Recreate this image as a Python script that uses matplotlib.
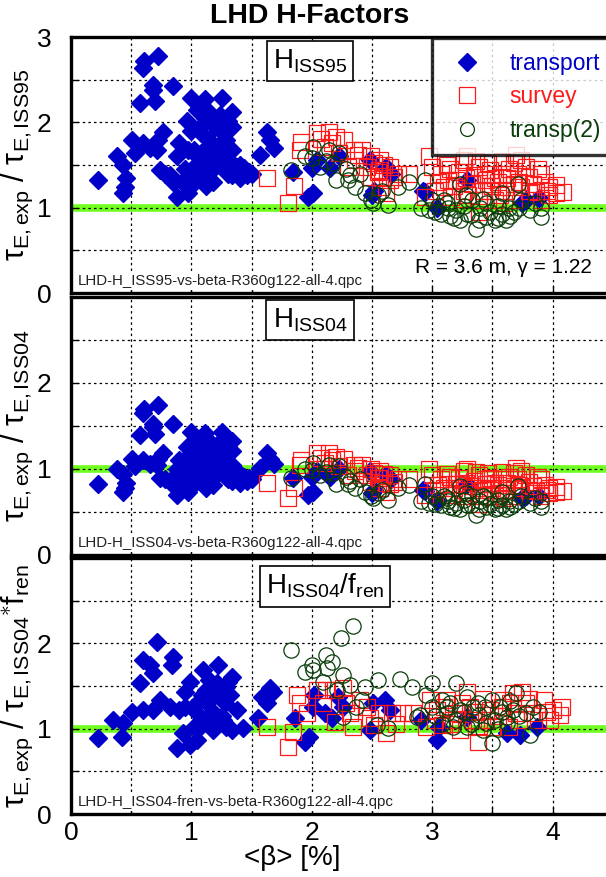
import numpy as np
import matplotlib
matplotlib.use("Agg")
import matplotlib.pyplot as plt
from matplotlib.lines import Line2D

plt.rcParams['font.family'] = ['Liberation Sans', 'DejaVu Sans']
plt.rcParams['mathtext.fontset'] = 'custom'
plt.rcParams['mathtext.rm'] = 'Liberation Sans'
plt.rcParams['mathtext.it'] = 'Liberation Sans:italic'
plt.rcParams['mathtext.bf'] = 'Liberation Sans:bold'

# ---- transport shots: <beta> and H-factors (ISS95 / ISS04) ----
beta_tr = [0.72, 0.61, 0.60, 0.68, 0.68, 0.85, 0.57, 0.70, 1.00, 1.11,
           1.25, 1.34, 1.05, 1.15, 1.24, 0.96, 1.09, 1.11, 0.76, 0.72,
           1.34, 1.26, 1.63, 1.65, 1.69, 1.57, 0.51, 0.60, 0.71, 0.90,
           0.97, 1.15, 1.29, 1.34, 0.53, 0.38, 0.43, 0.88, 1.05, 1.15,
           1.26, 1.10, 1.21, 1.05, 1.15, 1.29, 1.38, 1.44, 1.34, 1.46,
           0.74, 0.82, 0.85, 0.22, 0.46, 0.45, 0.43, 1.01, 0.99, 0.97,
           0.88, 1.84, 1.97, 2.01, 2.00, 2.04, 2.15, 2.23, 2.48, 2.52,
           2.50, 2.62, 2.66, 2.92, 3.04, 2.94, 3.29, 3.78, 3.89, 3.75,
           1.10, 1.20, 1.30, 1.18, 1.50, 1.40, 1.08, 1.20, 0.92, 1.02,
           1.00, 1.12, 1.22, 1.28, 1.18, 1.08, 0.95, 1.32, 1.40, 1.48,
           1.12, 1.02, 1.25, 1.30, 0.78, 0.66]
h95_tr = [2.78, 2.72, 2.64, 2.44, 2.38, 2.43, 2.23, 2.25, 2.29, 2.27,
          2.29, 2.12, 2.15, 2.12, 2.09, 2.01, 1.97, 2.05, 1.89, 1.79,
          1.94, 1.88, 1.89, 1.79, 1.70, 1.62, 1.79, 1.76, 1.68, 1.76,
          1.68, 1.79, 1.79, 1.68, 1.64, 1.60, 1.50, 1.60, 1.60, 1.62,
          1.60, 1.52, 1.50, 1.44, 1.42, 1.46, 1.48, 1.46, 1.38, 1.38,
          1.44, 1.38, 1.30, 1.32, 1.35, 1.24, 1.17, 1.32, 1.24, 1.17,
          1.12, 1.42, 1.12, 1.17, 1.46, 1.56, 1.46, 1.60, 1.56, 1.20,
          1.15, 1.48, 1.40, 1.20, 1.00, 1.18, 1.32, 1.09, 1.11, 1.05,
          1.40, 1.55, 1.40, 1.30, 1.40, 1.35, 1.88, 1.95, 1.30, 1.48,
          1.90, 1.70, 1.72, 1.62, 1.45, 1.58, 1.45, 1.55, 1.50, 1.42,
          1.25, 1.68, 1.95, 2.02, 1.40, 1.70]
h04_tr = [1.74, 1.70, 1.65, 1.52, 1.49, 1.52, 1.39, 1.41, 1.43, 1.42,
          1.43, 1.32, 1.34, 1.32, 1.31, 1.26, 1.23, 1.28, 1.18, 1.12,
          1.21, 1.17, 1.18, 1.12, 1.06, 1.01, 1.12, 1.10, 1.05, 1.10,
          1.05, 1.12, 1.12, 1.05, 1.03, 1.00, 0.94, 1.00, 1.00, 1.01,
          1.00, 0.95, 0.94, 0.90, 0.89, 0.91, 0.93, 0.91, 0.86, 0.86,
          0.90, 0.86, 0.81, 0.83, 0.84, 0.78, 0.73, 0.83, 0.78, 0.73,
          0.70, 0.89, 0.70, 0.73, 0.91, 0.98, 0.91, 1.00, 0.98, 0.75,
          0.72, 0.93, 0.88, 0.75, 0.63, 0.74, 0.83, 0.68, 0.69, 0.66,
          0.88, 0.97, 0.88, 0.81, 0.88, 0.84, 1.18, 1.22, 0.81, 0.93,
          1.19, 1.06, 1.08, 1.01, 0.91, 0.99, 0.91, 0.97, 0.94, 0.89,
          0.78, 1.05, 1.22, 1.26, 0.88, 1.06]

# ---- survey shots ----
beta_sv = [1.63, 1.85, 1.80, 1.91, 1.90, 2.04, 2.14, 2.20, 2.27, 2.17,
           2.11, 2.23, 2.42, 2.49, 2.57, 2.36, 2.30, 2.56, 2.65, 2.72,
           2.49, 2.57, 2.62, 2.65, 2.46, 2.97, 3.00, 3.07, 3.13, 3.26,
           3.29, 3.39, 3.48, 3.58, 3.68, 3.74, 3.78, 3.71, 3.90, 3.84,
           3.97, 4.03, 4.09, 4.03, 3.97, 3.20, 3.33, 3.45, 3.55, 3.10,
           3.26, 3.42, 3.61, 3.74, 3.39, 3.39, 3.52, 3.68, 3.16, 2.94,
           3.90, 2.81, 3.68, 3.05, 3.15, 3.35, 3.50, 3.62, 3.80, 3.86,
           3.22, 3.46, 3.56, 3.30, 2.55, 2.38, 2.68, 2.60, 3.70, 3.94,
           3.02, 3.12, 3.18, 3.28, 3.36, 3.44, 3.52, 3.58, 3.64, 3.72,
           3.80, 3.88, 3.95, 3.48, 3.25, 3.60, 2.58, 2.52, 2.35, 2.08]
h95_sv = [1.35, 1.25, 1.05, 1.77, 1.68, 1.88, 1.89, 1.83, 1.79, 1.76,
          1.71, 1.64, 1.68, 1.60, 1.56, 1.56, 1.48, 1.44, 1.48, 1.40,
          1.36, 1.24, 1.17, 1.32, 1.48, 1.60, 1.48, 1.40, 1.32, 1.56,
          1.60, 1.48, 1.44, 1.40, 1.52, 1.56, 1.48, 1.40, 1.40, 1.28,
          1.24, 1.26, 1.18, 1.17, 1.15, 1.32, 1.28, 1.32, 1.30, 1.24,
          1.20, 1.20, 1.20, 1.24, 1.09, 0.95, 1.09, 1.09, 1.12, 1.12,
          1.09, 1.40, 1.28, 1.30, 1.45, 1.38, 1.25, 1.35, 1.36, 1.18,
          1.42, 1.52, 1.15, 1.15, 1.42, 1.62, 1.36, 1.50, 1.62, 1.30,
          1.20, 1.50, 1.25, 1.35, 1.55, 1.40, 1.35, 1.55, 1.45, 1.30,
          1.20, 1.45, 1.20, 1.20, 1.10, 1.05, 1.35, 1.52, 1.68, 1.80]
h04_sv = [0.84, 0.78, 0.66, 1.11, 1.05, 1.18, 1.18, 1.14, 1.12, 1.10,
          1.07, 1.03, 1.05, 1.00, 0.98, 0.98, 0.93, 0.90, 0.93, 0.88,
          0.85, 0.78, 0.73, 0.83, 0.93, 1.00, 0.93, 0.88, 0.83, 0.98,
          1.00, 0.93, 0.90, 0.88, 0.95, 0.98, 0.93, 0.88, 0.88, 0.80,
          0.78, 0.79, 0.74, 0.73, 0.72, 0.83, 0.80, 0.83, 0.81, 0.78,
          0.75, 0.75, 0.75, 0.78, 0.68, 0.59, 0.68, 0.68, 0.70, 0.70,
          0.68, 0.88, 0.80, 0.81, 0.91, 0.86, 0.78, 0.84, 0.85, 0.74,
          0.89, 0.95, 0.72, 0.72, 0.89, 1.01, 0.85, 0.94, 1.01, 0.81,
          0.75, 0.94, 0.78, 0.84, 0.97, 0.88, 0.84, 0.97, 0.91, 0.81,
          0.75, 0.91, 0.75, 0.75, 0.69, 0.66, 0.84, 0.95, 1.05, 1.13]

# ---- second transport set ----
beta_t2 = [1.83, 2.01, 1.94, 2.14, 2.23, 2.07, 2.20, 2.30, 2.36, 2.44,
           2.49, 2.51, 2.63, 2.72, 2.81, 2.94, 2.91, 2.97, 3.07, 3.20,
           3.23, 3.36, 3.45, 3.52, 3.61, 3.64, 3.71, 3.81, 3.90, 3.90,
           3.10, 3.23, 3.33, 3.45, 3.58, 3.13, 3.29, 3.58, 3.39, 3.74,
           3.00, 2.40, 2.28, 2.58, 3.05, 3.40, 3.55, 3.68, 3.15, 2.12,
           3.02, 3.12, 3.18, 3.26, 3.32, 3.42, 3.48, 3.55, 3.65, 3.72,
           3.85, 3.28, 2.55, 2.32, 2.18, 2.00]
h95_t2 = [1.44, 1.71, 1.60, 1.68, 1.64, 1.48, 1.32, 1.32, 1.24, 1.17,
          1.09, 1.05, 1.03, 1.24, 1.30, 1.32, 1.00, 0.97, 0.93, 0.97,
          0.85, 0.75, 0.89, 0.85, 0.85, 1.00, 1.28, 0.97, 0.89, 1.00,
          1.09, 1.28, 1.09, 1.05, 1.17, 1.00, 0.93, 0.93, 0.85, 1.09,
          1.09, 1.40, 1.45, 1.20, 1.02, 1.00, 1.02, 0.95, 0.90, 1.55,
          0.95, 1.05, 0.88, 1.02, 0.92, 1.10, 0.95, 0.88, 0.90, 1.00,
          1.05, 1.15, 1.15, 1.38, 1.52, 1.58]
h04_t2 = [0.90, 1.07, 1.00, 1.05, 1.03, 0.93, 0.83, 0.83, 0.78, 0.73,
          0.68, 0.66, 0.64, 0.78, 0.81, 0.83, 0.63, 0.61, 0.58, 0.61,
          0.53, 0.47, 0.56, 0.53, 0.53, 0.63, 0.80, 0.61, 0.56, 0.63,
          0.68, 0.80, 0.68, 0.66, 0.73, 0.63, 0.58, 0.58, 0.53, 0.68,
          0.68, 0.88, 0.91, 0.75, 0.64, 0.63, 0.64, 0.59, 0.56, 0.97,
          0.59, 0.66, 0.55, 0.64, 0.58, 0.69, 0.59, 0.55, 0.56, 0.63,
          0.66, 0.72, 0.72, 0.86, 0.95, 0.99]

# ---- renormalised ISS04 (H / f_ren) ----
beta_tr_f = [0.71, 0.60, 0.66, 0.68, 0.85, 0.84, 0.57, 1.10, 1.22, 1.34,
             0.99, 0.95, 1.15, 1.21, 1.29, 1.32, 1.09, 1.13, 1.24, 0.74,
             0.68, 0.60, 0.51, 0.82, 0.90, 0.35, 0.43, 0.42, 0.22, 1.05,
             1.10, 1.05, 1.05, 0.99, 0.88, 1.26, 1.29, 1.34, 1.43, 1.38,
             1.65, 1.68, 1.59, 1.63, 1.55, 1.18, 0.93, 1.86, 1.98, 1.94,
             2.02, 2.01, 2.11, 2.17, 2.22, 2.26, 2.48, 2.51, 2.61, 2.65,
             2.91, 3.04, 3.06, 3.62, 3.73, 3.87, 3.29,
             1.05, 1.12, 1.18, 1.22, 1.28, 1.15, 1.25, 1.08, 1.30, 1.02,
             0.95]
hf_tr = [2.02, 1.81, 1.75, 1.65, 1.84, 1.75, 1.54, 1.69, 1.75, 1.61,
         1.55, 1.43, 1.57, 1.54, 1.49, 1.40, 1.40, 1.30, 1.37, 1.34,
         1.22, 1.22, 1.20, 1.25, 1.22, 1.10, 1.07, 0.90, 0.89, 1.18,
         1.10, 0.98, 0.87, 0.81, 0.77, 1.10, 1.02, 0.98, 1.01, 1.22,
         1.48, 1.43, 1.37, 1.30, 1.12, 0.98, 0.95, 1.12, 0.90, 0.84,
         1.40, 1.25, 1.18, 1.12, 1.37, 1.25, 0.98, 1.30, 1.34, 1.22,
         1.10, 0.87, 1.02, 0.95, 0.93, 1.02, 1.14,
         1.30, 1.45, 1.20, 1.40, 1.30, 1.05, 1.15, 1.10, 1.55, 1.02,
         1.25]

beta_sv_f = [1.63, 1.80, 1.84, 1.88, 1.90, 1.96, 2.04, 2.09, 2.12, 2.19,
             2.26, 2.19, 2.32, 2.34, 2.40, 2.46, 2.52, 2.56, 2.62, 2.67,
             2.76, 2.84, 2.95, 2.98, 3.04, 3.08, 3.12, 3.20, 3.23, 3.29,
             3.31, 3.38, 3.39, 3.48, 3.50, 3.59, 3.67, 3.75, 3.78, 3.70,
             3.83, 3.93, 4.00, 4.06, 4.08, 3.98, 3.64, 3.17, 3.34,
             3.02, 3.10, 3.15, 3.25, 3.36, 3.42, 3.45, 3.55, 3.58, 3.65,
             3.72, 3.80, 3.88, 3.95, 2.28, 2.48, 2.70]
hf_sv = [1.02, 0.79, 0.96, 1.40, 1.30, 1.18, 1.45, 1.30, 1.45, 1.45,
         1.48, 1.08, 1.18, 1.02, 1.34, 1.25, 1.04, 1.18, 0.95, 1.18,
         1.18, 1.18, 1.02, 1.34, 1.22, 1.04, 1.34, 1.18, 0.98, 1.43,
         1.25, 0.84, 1.02, 1.22, 1.02, 1.34, 1.42, 1.43, 1.30, 1.18,
         1.18, 1.34, 1.22, 1.16, 1.25, 1.10, 1.02, 1.10, 1.10,
         1.10, 1.25, 1.05, 1.30, 1.20, 1.35, 1.10, 1.15, 1.25, 1.30,
         1.10, 1.35, 1.10, 1.20, 1.30, 1.12, 1.05]

beta_t2_f = [2.34, 2.24, 1.83, 2.12, 2.17, 2.00, 1.94, 2.01, 2.13, 2.26,
             2.09, 2.32, 2.55, 2.73, 2.83, 3.00, 3.20, 2.95, 3.08, 2.44,
             2.21, 2.37, 2.26, 2.42, 2.63, 2.54, 2.90, 3.12, 3.12, 3.23,
             3.29, 3.34, 3.39, 3.50, 3.56, 3.67, 3.70, 3.78, 3.89, 3.50,
             3.81, 3.29, 3.17, 3.45, 3.62, 3.62, 3.00, 2.87,
             3.02, 3.08, 3.15, 3.20, 3.26, 3.32, 3.38, 3.44, 3.52, 3.58,
             3.65, 3.72, 3.84, 3.42, 3.55]
hf_t2 = [2.20, 2.06, 1.92, 1.86, 1.78, 1.75, 1.66, 1.69, 1.71, 1.63,
         1.55, 1.51, 1.57, 1.58, 1.49, 1.54, 1.54, 1.40, 1.34, 1.49,
         1.45, 1.25, 1.14, 1.34, 1.01, 1.04, 1.16, 1.25, 1.18, 1.22,
         1.37, 1.25, 1.16, 1.34, 1.25, 1.22, 1.42, 1.18, 1.20, 0.83,
         0.93, 1.02, 1.02, 1.07, 1.14, 1.07, 1.25, 1.14,
         1.15, 1.05, 1.30, 1.10, 1.20, 1.05, 1.30, 1.25, 1.10, 1.20,
         1.32, 1.15, 1.25, 0.98, 1.00]

blue = '#0000c8'
red = '#ff1a1a'
dgreen = '#0a3d0a'

panels = [
    (beta_tr, h95_tr, beta_sv, h95_sv, beta_t2, h95_t2,
     'H$_{\\rm ISS95}$', 'τ$_{\\rm E,exp}$ / τ$_{\\rm E,ISS95}$',
     'LHD-H_ISS95-vs-beta-R360g122-all-4.qpc'),
    (beta_tr, h04_tr, beta_sv, h04_sv, beta_t2, h04_t2,
     'H$_{\\rm ISS04}$', 'τ$_{\\rm E,exp}$ / τ$_{\\rm E,ISS04}$',
     'LHD-H_ISS04-vs-beta-R360g122-all-4.qpc'),
    (beta_tr_f, hf_tr, beta_sv_f, hf_sv, beta_t2_f, hf_t2,
     'H$_{\\rm ISS04}$/f$_{\\rm ren}$',
     'τ$_{\\rm E,exp}$ / τ$_{\\rm E,ISS04}$$^{\\ast}$f$_{\\rm ren}$',
     'LHD-H_ISS04-fren-vs-beta-R360g122-all-4.qpc'),
]

fig = plt.figure(figsize=(6.06, 8.77), dpi=100)
boxes = [[0.1172, 0.6659, 0.894, 0.2919],
         [0.1172, 0.3672, 0.894, 0.2942],
         [0.1172, 0.0718, 0.894, 0.2919]]
label_pos = [(1.985, 2.72), (1.985, 2.73), (2.11, 2.67)]

for i, (pos, p) in enumerate(zip(boxes, panels)):
    xt, yt, xs, ys, x2, y2, tag, ylab, fname = p
    ax = fig.add_axes(pos)
    ax.axhline(1.0, color='#70ff20', lw=5.5, zorder=1)
    ax.plot(xt, yt, 'D', ms=9.5, color=blue, mec=blue, zorder=3)
    ax.plot(xs, ys, 's', ms=11, mfc='none', mec=red, mew=0.9, zorder=4)
    ax.plot(x2, y2, 'o', ms=11, mfc='none', mec=dgreen, mew=0.9, zorder=5)

    ax.set_xlim(0, 4.5)
    ax.set_ylim(0, 3)
    ax.set_xticks(np.arange(0, 4.51, 0.5))
    ax.set_yticks(np.arange(0, 3.01, 0.5))
    ax.grid(True, color='black', ls=(0, (2, 2.5)), lw=0.9, zorder=2)
    ax.set_axisbelow(False)
    ylabels = ['0', '', '1', '', '2', '', '3' if i == 0 else '']
    ax.set_yticklabels(ylabels)
    if i == 2:
        ax.set_xticklabels(['0', '', '1', '', '2', '', '3', '', '4', ''])
    else:
        ax.set_xticklabels([])
    ax.tick_params(direction='in', length=5, width=1, labelsize=19, pad=14)
    ax.tick_params(axis='x', pad=5)
    for s in ax.spines.values():
        s.set_linewidth(2.4)
    ax.set_ylabel(ylab, fontsize=22)
    ax.yaxis.set_label_coords(-0.066, 0.5)

    ax.text(label_pos[i][0], label_pos[i][1], tag, fontsize=20,
            ha='center', va='center', zorder=8,
            bbox=dict(boxstyle='square,pad=0.22', fc='white', ec='black', lw=1.2))
    ax.text(0.012, 0.018, fname, transform=ax.transAxes, fontsize=10.8,
            color='#222222', ha='left', va='bottom', zorder=8,
            bbox=dict(boxstyle='square,pad=0.1', fc='white', ec='none'))

    if i == 0:
        ax.text(0.961, 0.098, 'R = 3.6 m, γ = 1.22', transform=ax.transAxes,
                fontsize=15, ha='right', va='center', zorder=8,
                bbox=dict(boxstyle='square,pad=0.1', fc='white', ec='none'))
        handles = [Line2D([], [], ls='none', marker='D', ms=9, color=blue),
                   Line2D([], [], ls='none', marker='s', ms=11, mfc='none', mec=red, mew=0.9),
                   Line2D([], [], ls='none', marker='o', ms=10, mfc='none', mec=dgreen, mew=0.9)]
        leg = ax.legend(handles, ['transport', 'survey', 'transp(2)'],
                        loc='upper left', bbox_to_anchor=(0.666, 0.995),
                        fontsize=16.5, frameon=True, fancybox=False,
                        handletextpad=0.9, labelspacing=0.45,
                        borderpad=0.6, handlelength=1.9, borderaxespad=0)
        leg.get_frame().set_edgecolor('black')
        leg.get_frame().set_linewidth(2.4)
        leg.set_zorder(10)
        for txt, c in zip(leg.get_texts(), [blue, red, dgreen]):
            txt.set_color(c)

fig.text(310 / 606, 1 - 16 / 877, 'LHD H-Factors', fontsize=20.5,
         fontweight='bold', ha='center', va='center')
fig.text(292 / 606, 1 - 858 / 877, '<β> [%]', fontsize=20,
         ha='center', va='center')

fig.savefig('out.png', dpi=100)
